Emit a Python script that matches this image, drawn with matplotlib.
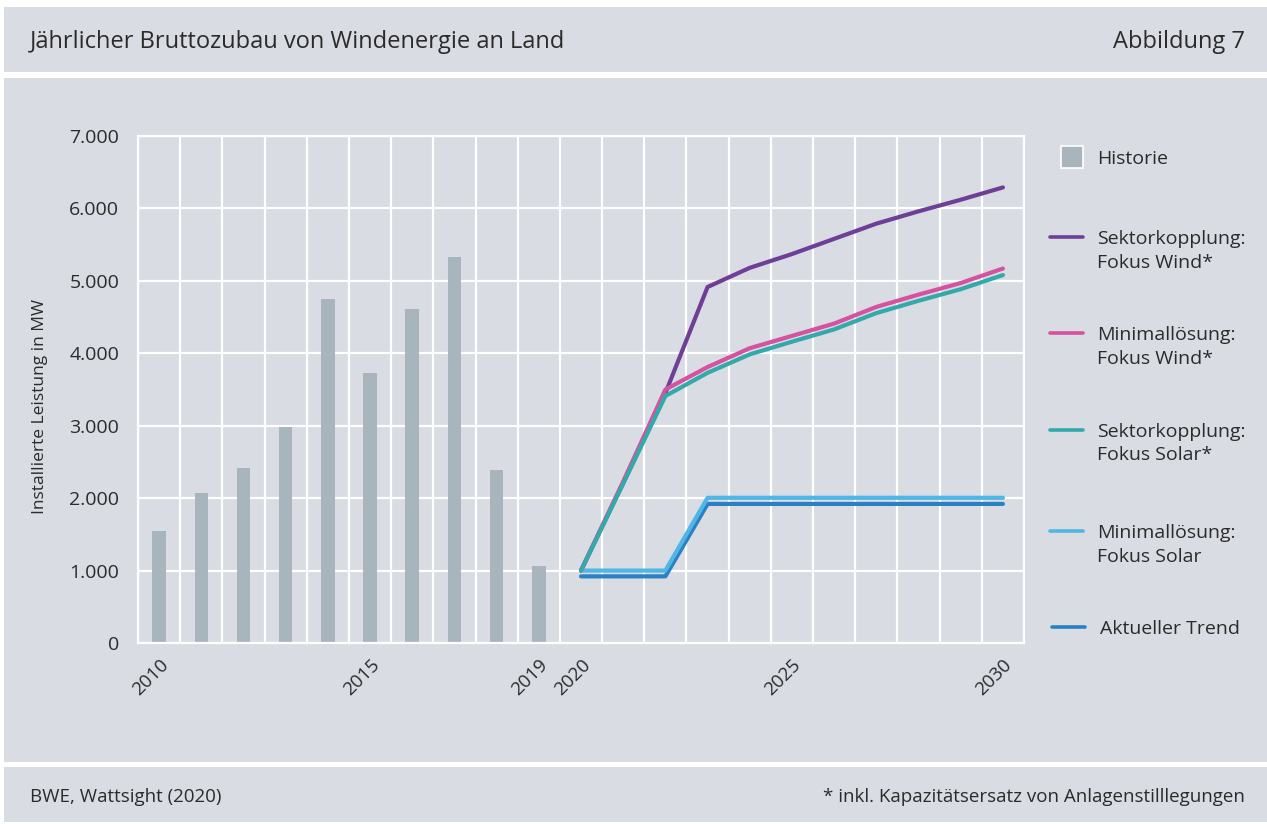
import matplotlib
matplotlib.use("Agg")
import matplotlib.pyplot as plt
from matplotlib.patches import Rectangle
from matplotlib.lines import Line2D
import numpy as np

plt.rcParams['font.family'] = ['Open Sans', 'DejaVu Sans']

# historische Werte (Balken)
histYears = [2010, 2011, 2012, 2013, 2014, 2015, 2016, 2017, 2018, 2019]
histValues = [1550, 2065, 2410, 2980, 4755, 3730, 4610, 5330, 2385, 1065]

# Szenarien 2020-2030
scenYears = [2020, 2021, 2022, 2023, 2024, 2025, 2026, 2027, 2028, 2029, 2030]
sektorWind = [1000, 2210, 3450, 4915, 5180, 5370, 5580, 5790, 5960, 6120, 6290]
minimalWind = [1000, 2230, 3500, 3810, 4070, 4240, 4410, 4640, 4810, 4970, 5170]
sektorSolar = [1000, 2200, 3410, 3730, 3985, 4160, 4330, 4555, 4725, 4885, 5080]
minimalSolar = [1000, 1000, 1000, 2005, 2005, 2005, 2005, 2005, 2005, 2005, 2005]
aktuellerTrend = [920, 920, 920, 1920, 1920, 1920, 1920, 1920, 1920, 1920, 1920]

tickYears = [2010, 2015, 2019, 2020, 2025, 2030]
yTicks = [0, 1000, 2000, 3000, 4000, 5000, 6000, 7000]
yTickLabels = ["0", "1.000", "2.000", "3.000", "4.000", "5.000", "6.000", "7.000"]

legendLabels = ["Historie", "Sektorkopplung:\nFokus Wind*", "Minimallösung:\nFokus Wind*",
                "Sektorkopplung:\nFokus Solar*", "Minimallösung:\nFokus Solar",
                "Aktueller Trend"]

# Farben
panelGray = "#d9dce3"
barGray = "#a8b5bd"
colPurple = "#6f3f98"
colPink = "#d6519f"
colTeal = "#33a9aa"
colLightBlue = "#4fb6e6"
colDarkBlue = "#2a80c4"
textCol = "#2b2b2b"
legendColors = [barGray, colPurple, colPink, colTeal, colLightBlue, colDarkBlue]

W, H = 1267, 824
fig = plt.figure(figsize=(W / 100, H / 100), dpi=100, facecolor="white")

def fx(px):
    return px / W

def fy(py):
    return 1 - py / H

# Hintergrundflaechen (Kopf, Hauptteil, Fuss)
def panel(y0, y1):
    fig.add_artist(Rectangle((fx(4), fy(y1)), 1, (y1 - y0) / H,
                             transform=fig.transFigure, facecolor=panelGray,
                             edgecolor="none", zorder=0))

panel(7, 72)
panel(78, 762)
panel(767, 822)

fig.text(fx(30), fy(42), "Jährlicher Bruttozubau von Windenergie an Land",
         fontsize=17, color=textCol, va="center", ha="left")
fig.text(fx(1245), fy(42), "Abbildung 7", fontsize=17, color=textCol,
         va="center", ha="right")
fig.text(fx(30), fy(797), "BWE, Wattsight (2020)", fontsize=13.5,
         color=textCol, va="center", ha="left")
fig.text(fx(1245), fy(797), "* inkl. Kapazitätsersatz von Anlagenstilllegungen",
         fontsize=13.5, color=textCol, va="center", ha="right")

ax = fig.add_axes([fx(138), fy(643), 886 / W, 507 / H])
ax.set_facecolor(panelGray)

ax.bar(histYears, histValues, width=0.32, color=barGray, zorder=2)

ax.plot(scenYears, sektorWind, color=colPurple, lw=3, zorder=3, solid_capstyle="round")
ax.plot(scenYears, aktuellerTrend, color=colDarkBlue, lw=3, zorder=3, solid_capstyle="round")
ax.plot(scenYears, minimalSolar, color=colLightBlue, lw=3, zorder=4, solid_capstyle="round")
ax.plot(scenYears, minimalWind, color=colPink, lw=3, zorder=4, solid_capstyle="round")
ax.plot(scenYears, sektorSolar, color=colTeal, lw=3, zorder=5, solid_capstyle="round")

ax.set_xlim(2009.5, 2030.5)
ax.set_ylim(0, 7000)
ax.set_xticks(tickYears)
ax.set_xticklabels([str(y) for y in tickYears], rotation=45, ha="right",
                   rotation_mode="anchor")
ax.set_xticks(np.arange(2009.5, 2031, 1), minor=True)
ax.set_yticks(yTicks)
ax.set_yticklabels(yTickLabels)
ax.tick_params(axis="both", which="both", length=0, colors=textCol)
ax.tick_params(axis="x", pad=9, labelsize=13.5)
ax.tick_params(axis="y", pad=13.5, labelsize=14)
ax.grid(True, which="minor", axis="x", color="white", lw=1.6, zorder=1)
ax.grid(True, which="major", axis="y", color="white", lw=1.6, zorder=1)
for s in ax.spines.values():
    s.set_color("white")
    s.set_linewidth(1.6)
ax.set_ylabel("Installierte Leistung in MW", fontsize=12.5, color=textCol)
ax.yaxis.set_label_coords(-0.102, 0.467)

# Legende von Hand: Symbol auf Hoehe der ersten Textzeile
legendRows = [157, 237, 333, 430, 531, 627]
lineStep = 23.5
for i, (lab, col, yRow) in enumerate(zip(legendLabels, legendColors, legendRows)):
    if i == 0:
        fig.add_artist(Line2D([fx(1072)], [fy(yRow)], marker="s", markersize=16,
                              markerfacecolor=col, markeredgecolor="white",
                              markeredgewidth=1.2, linestyle="none",
                              transform=fig.transFigure))
        xText = 1097
    else:
        x0 = 1052 if i == 5 else 1050
        fig.add_artist(Line2D([fx(x0), fx(x0 + 33)], [fy(yRow), fy(yRow)], color=col,
                              lw=2.6, solid_capstyle="round", transform=fig.transFigure))
        xText = 1100 if i == 5 else 1097
    for k, part in enumerate(lab.split("\n")):
        fig.text(fx(xText), fy(yRow + 7 + k * lineStep), part, fontsize=14,
                 color=textCol, ha="left", va="baseline")

fig.savefig("out.png", dpi=100, facecolor="white")
